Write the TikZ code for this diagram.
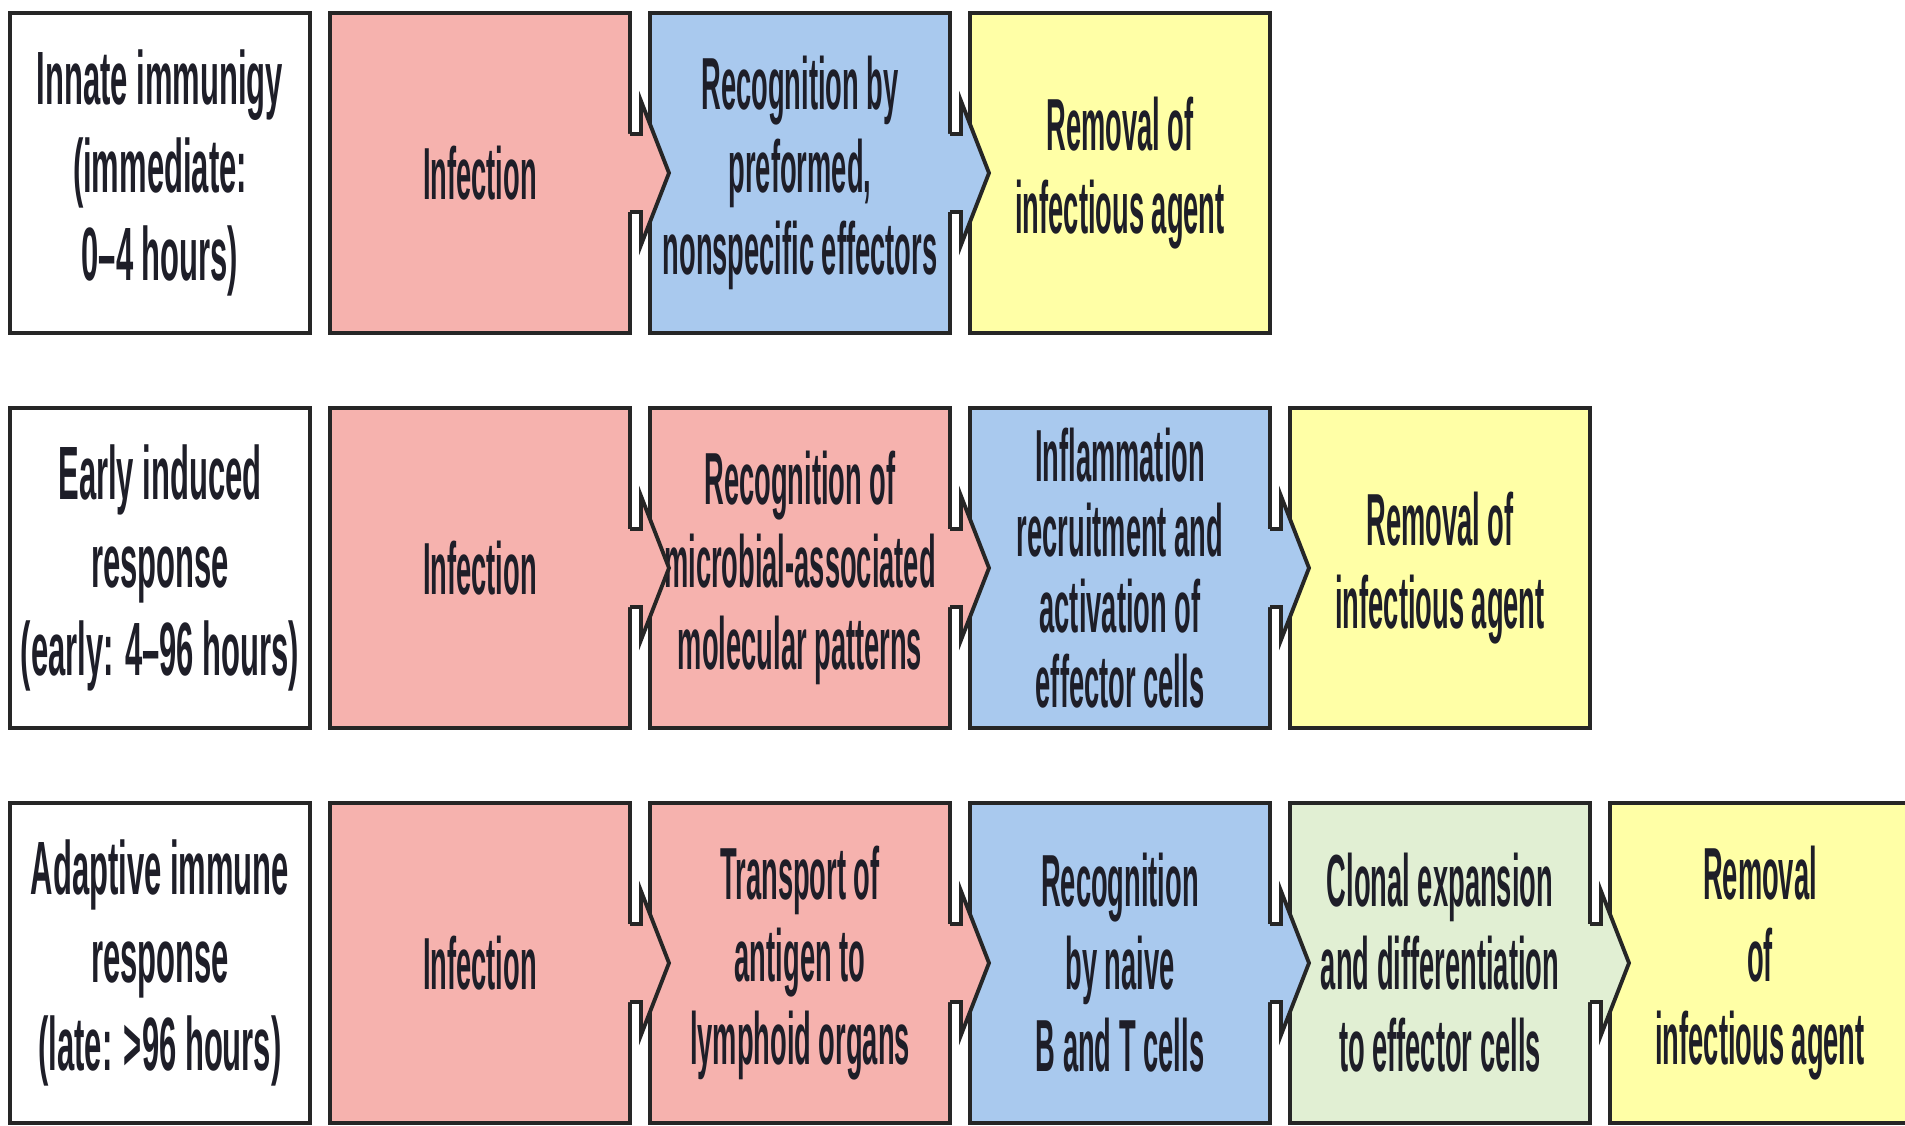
\documentclass[tikz,border=0pt]{standalone}
\usepackage{fontspec}
\setmainfont{Liberation Sans}[FakeStretch=0.37]
\newfontfamily\phasefont{Liberation Sans}[FakeStretch=0.41]
\usepackage{tikz}
\usetikzlibrary{calc,positioning}
\usepackage{xcolor}
\definecolor{infpink}{HTML}{F6B2AE}
\definecolor{recblue}{HTML}{A9C9EE}
\definecolor{remyellow}{HTML}{FFFFA6}
\definecolor{clongreen}{HTML}{E1EFD3}
\definecolor{boxdark}{HTML}{262626}
\definecolor{textdark}{HTML}{1E1E28}

% notched arrow from one stage box into the next
\newcommand{\phasearrow}[3]{%
  \fill[fill=#3] ($(#1.east)+(-0.04,0.39)$) -- ($(#1.east)+(0.11,0.39)$) -- ($(#1.east)+(0.11,0.72)$)
    -- ($(#2.west)+(0.19,0)$) -- ($(#1.east)+(0.11,-0.72)$) -- ($(#1.east)+(0.11,-0.39)$)
    -- ($(#1.east)+(-0.04,-0.39)$) -- cycle;
  \draw[arrowline] ($(#1.east)+(0,0.39)$) -- ($(#1.east)+(0.11,0.39)$) -- ($(#1.east)+(0.11,0.72)$)
    -- ($(#2.west)+(0.19,0)$) -- ($(#1.east)+(0.11,-0.72)$) -- ($(#1.east)+(0.11,-0.39)$)
    -- ($(#1.east)+(0,-0.39)$);
}

\begin{document}
\begin{tikzpicture}[
  stage/.style={draw=boxdark, line width=1.2pt, minimum width=3cm, minimum height=3.2cm,
    inner sep=0pt, outer sep=0pt, align=center, text=textdark,
    font=\bfseries\fontsize{21}{23.5}\selectfont},
  phase/.style={stage, fill=white, font=\phasefont\bfseries\fontsize{21.5}{25}\selectfont},
  tight/.style={font=\bfseries\fontsize{21}{21.5}\selectfont},
  arrowline/.style={draw=boxdark, line width=1.1pt, line join=miter},
  ]
  \useasboundingbox (0,0) rectangle (19.05,11.25);

  % innate immunity
  \node[phase] (lab1) at (1.6,9.52) {Innate immunigy\\(immediate:\\0–4 hours)};
  \node[stage, fill=infpink, right=0.2cm of lab1] (inf1) {Infection};
  \node[stage, fill=recblue, right=0.2cm of inf1] (rec1) {Recognition by\\preformed,\\nonspecific effectors};
  \node[stage, fill=remyellow, right=0.2cm of rec1] (rem1) {Removal of\\infectious agent};

  % early induced
  \node[phase] (lab2) at (1.6,5.57) {Early induced\\response\\(early: 4–96 hours)};
  \node[stage, fill=infpink, right=0.2cm of lab2] (inf2) {Infection};
  \node[stage, fill=infpink, right=0.2cm of inf2] (pat2) {Recognition of\\microbial-associated\\molecular patterns};
  \node[stage, tight, fill=recblue, right=0.2cm of pat2] (infl2) {Inflammation\\recruitment and\\activation of\\effector cells};
  \node[stage, fill=remyellow, right=0.2cm of infl2] (rem2) {Removal of\\infectious agent};

  % adaptive
  \node[phase] (lab3) at (1.6,1.62) {Adaptive immune\\response\\(late: >96 hours)};
  \node[stage, fill=infpink, right=0.2cm of lab3] (inf3) {Infection};
  \node[stage, fill=infpink, right=0.2cm of inf3] (tra3) {Transport of\\antigen to\\lymphoid organs};
  \node[stage, fill=recblue, right=0.2cm of tra3] (rec3) {Recognition\\by naive\\B and T cells};
  \node[stage, fill=clongreen, right=0.2cm of rec3] (clo3) {Clonal expansion\\and differentiation\\to effector cells};
  \node[stage, fill=remyellow, right=0.2cm of clo3] (rem3) {Removal\\of\\infectious agent};

  \foreach \a/\b/\c in {inf1/rec1/infpink, rec1/rem1/recblue,
      inf2/pat2/infpink, pat2/infl2/infpink, infl2/rem2/recblue,
      inf3/tra3/infpink, tra3/rec3/infpink, rec3/clo3/recblue, clo3/rem3/clongreen}
    \phasearrow{\a}{\b}{\c};
\end{tikzpicture}
\end{document}
